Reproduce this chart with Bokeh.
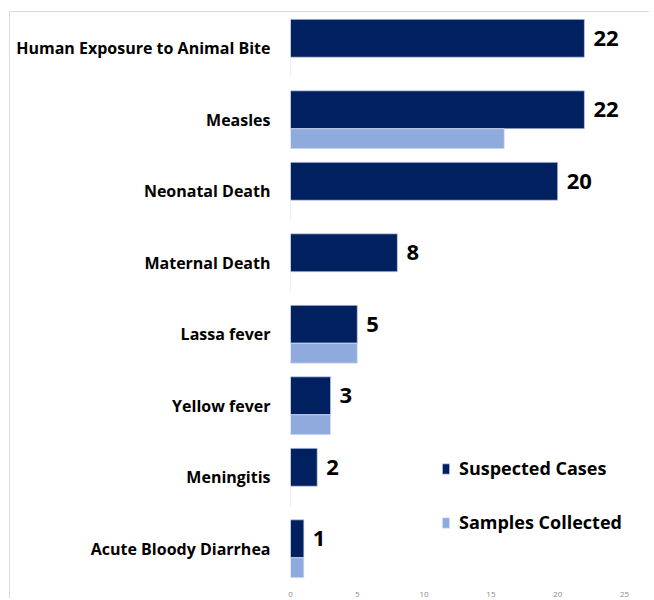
from bokeh.plotting import figure
from bokeh.models import Range1d, FixedTicker, Legend, LegendItem, ColumnDataSource
from bokeh.core.properties import value
from bokeh.embed import file_html
from bokeh.resources import INLINE

categories = ["Human Exposure to Animal Bite", "Measles", "Neonatal Death", "Maternal Death",
              "Lassa fever", "Yellow fever", "Meningitis", "Acute Bloody Diarrhea"]
suspected = [22, 22, 20, 8, 5, 3, 2, 1]
samples = [0, 16, 0, 0, 5, 3, 0, 1]
x_ticks = [0, 5, 10, 15, 20, 25]

DARK = "#002060"
LIGHT = "#8faadc"

n = len(categories)
idx = list(range(n))
dark_h = 0.53
light_h = 0.279
dark_y = [i - 0.4045 + dark_h / 2 for i in idx]
light_y = [i - 0.4045 + dark_h + light_h / 2 for i in idx]

src = ColumnDataSource(dict(y_d=dark_y, y_l=light_y, s=suspected, c=samples,
                            lab=[str(v) for v in suspected]))

p = figure(width=640, height=587, output_backend="svg", toolbar_location=None,
           x_range=Range1d(0, 25), y_range=Range1d(n - 0.5, -0.5),
           min_border_left=280, min_border_right=26, min_border_top=0, min_border_bottom=0)
p.styles = {"margin-left": "9px", "margin-top": "11px",
            "border-top": "1px solid #d9d9d9", "border-left": "1px solid #d9d9d9"}
p.outline_line_color = None
p.xgrid.grid_line_color = None
p.ygrid.grid_line_color = None

r1 = p.hbar(y="y_d", right="s", left=0, height=dark_h, source=src,
            fill_color=DARK, line_color="#c8d2ec", line_width=0.7)
r2 = p.hbar(y="y_l", right="c", left=0, height=light_h, source=src,
            fill_color=LIGHT, line_color="#dbe3f3", line_width=0.7)

p.text(x="s", y="y_d", text="lab", source=src, x_offset=9,
       text_baseline="middle", text_align="left",
       text_font=value("Open Sans"), text_font_style="bold",
       text_font_size="22px", text_color="#000000")

p.yaxis.ticker = FixedTicker(ticks=idx)
p.yaxis.major_label_overrides = {i: c for i, c in enumerate(categories)}
p.yaxis.major_label_text_font = "Open Sans"
p.yaxis.major_label_text_font_style = "bold"
p.yaxis.major_label_text_font_size = "16px"
p.yaxis.major_label_text_color = "#000000"
p.yaxis.major_label_standoff = 14
p.yaxis.axis_line_color = None
p.yaxis.major_tick_line_color = None
p.yaxis.minor_tick_line_color = None

p.xaxis.ticker = FixedTicker(ticks=x_ticks)
p.xaxis.major_label_text_font = "Open Sans"
p.xaxis.major_label_text_font_size = "8px"
p.xaxis.major_label_text_color = "#8c8c8c"
p.xaxis.major_label_standoff = 1
p.xaxis.axis_line_color = None
p.xaxis.major_tick_line_color = None
p.xaxis.minor_tick_line_color = None

legend = Legend(items=[LegendItem(label="Suspected Cases", renderers=[r1]),
                       LegendItem(label="Samples Collected", renderers=[r2])],
                location=(151, 50), orientation="vertical",
                glyph_width=9, glyph_height=13, label_height=24, spacing=30,
                padding=0, margin=0, label_standoff=9,
                label_text_font="Open Sans", label_text_font_size="18px",
                label_text_font_style="bold", label_text_color="#000000",
                background_fill_alpha=0, border_line_color=None)
p.add_layout(legend)

open("out.html", "w").write(file_html(p, INLINE))
